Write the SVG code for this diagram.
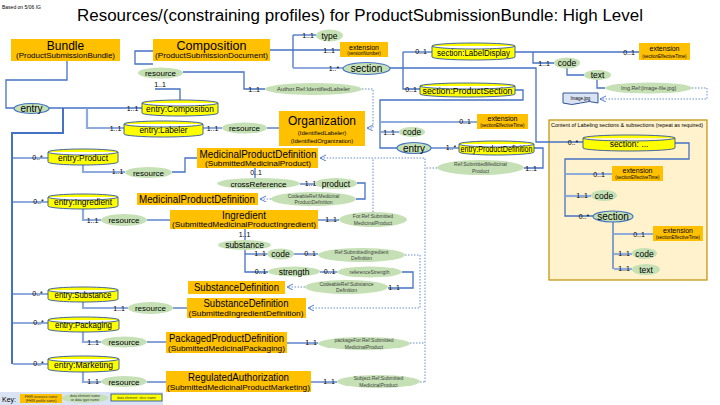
<svg xmlns="http://www.w3.org/2000/svg" width="720" height="405" viewBox="0 0 720 405">
<defs>
<marker id="oa" markerWidth="8" markerHeight="8" refX="6" refY="3" orient="auto" markerUnits="userSpaceOnUse">
<path d="M0,0 L6,3 L0,6" fill="none" stroke="#4472C4" stroke-width="0.9"/>
</marker>
<style>
text{font-family:"Liberation Sans",Arial,sans-serif;fill:#000}
.res{fill:#FFC000}
.el{fill:#C5E0B4}
.elb{fill:#C5E0B4;stroke:#4472C4;stroke-width:1.2}
.cyl{fill:#FFFF00;stroke:#2F5597;stroke-width:0.9}
.ln{fill:none;stroke:#4472C4;stroke-width:1.3}
.sp{fill:none;stroke:#4472C4;stroke-width:2}
.lt{fill:none;stroke:#8FAADC;stroke-width:2.2}
.dt{fill:none;stroke:#4472C4;stroke-width:0.8;stroke-dasharray:1.5 1.5}
.m{font-size:7px;text-anchor:middle}
.c{text-anchor:middle}
.big{font-size:12px;text-anchor:middle}
.mid{font-size:10.5px;text-anchor:middle}
.sub{font-size:7.5px;text-anchor:middle}
.sub6{font-size:6px;text-anchor:middle}
.tiny{font-size:5px;text-anchor:middle;fill:#404040}
.e8{font-size:8.5px;text-anchor:middle}
.cy{font-size:8.5px;text-anchor:middle}
.ext{font-size:7px;text-anchor:middle}
.ext2{font-size:4.5px;text-anchor:middle}
.key{font-size:3.5px;text-anchor:middle;fill:#333}
</style>
</defs>
<rect width="720" height="405" fill="#fff"/>
<text x="2" y="9" font-size="5">Based on 5/06 IG</text>
<text x="360" y="21" font-size="16" text-anchor="middle" textLength="566" lengthAdjust="spacingAndGlyphs">Resources/(constraining profiles) for ProductSubmissionBundle: High Level</text>

<g id="content-box">
<rect x="549" y="120" width="158" height="160" fill="#FFF2CC" stroke="#BF9000" stroke-width="1.2"/>
<text x="551" y="126.5" font-size="5" textLength="152" lengthAdjust="spacingAndGlyphs">Content of Labeling sections &amp; subsections (repeat as required)</text>
</g>

<g id="connectors">
<path class="ln" d="M67,61 V80 H6 V108 H14"/>
<path class="ln" d="M49,108 H142"/>
<path class="sp" d="M63,108 V133 H12 V364"/>
<path class="lt" d="M87,109 V128 H124"/>
<path class="lt" d="M203,128 H222"/>
<path class="ln" d="M267,128 H279"/>
<path class="ln" d="M153,51 H135 V64 H153"/>
<path class="ln" d="M155,89 H180 V100"/>
<path class="ln" d="M270,50 H340"/>
<path class="ln" d="M293,35 V68"/>
<path class="ln" d="M293,35 H316"/>
<path class="lt" d="M293,68 H343"/>
<path class="ln" d="M183,72 H244 V89 H265"/>
<path class="ln" d="M390,68 H536 V142 H583"/>
<path class="ln" d="M403,52 V89 H420"/>
<path class="ln" d="M403,52 H432"/>
<path class="ln" d="M515,52 H639"/>
<path class="ln" d="M533,52 V63 H554"/>
<path class="ln" d="M567,68 V75 H584"/>
<path class="ln" d="M597,80 V88 H605"/>
<path class="ln" d="M515,90 H523 V100 H380 V148 H397"/>
<path class="lt" d="M381,122 H477"/>
<path class="lt" d="M381,132 H399"/>
<path class="ln" d="M431,148 H459"/>
<path class="ln" d="M534,148 H543 V168 H524"/>
<path class="ln" d="M675,143 H689 V159 H565 V216 H593"/>
<path class="lt" d="M566,174 H612"/>
<path class="lt" d="M566,196 H591"/>
<path class="ln" d="M613,222 V269"/>
<path class="lt" d="M614,234 H653"/>
<path class="lt" d="M614,254 H632"/>
<path class="lt" d="M614,269 H632"/>
<path class="lt" d="M13,158 H48"/>
<path class="lt" d="M13,202 H48"/>
<path class="lt" d="M13,294 H48"/>
<path class="lt" d="M13,323 H48"/>
<path class="lt" d="M13,364 H48"/>
<path class="lt" d="M83,165 V172 H125"/>
<path class="ln" d="M172,172 H185 V158 H197"/>
<path class="ln" d="M255,168 V178"/>
<path class="ln" d="M300,184 H315"/>
<path class="ln" d="M357,183 H365 V199 H356"/>
<path class="lt" d="M83,209 V220 H101"/>
<path class="ln" d="M147,220 H170"/>
<path class="ln" d="M318,220 H339"/>
<path class="ln" d="M245,229 V240"/>
<path class="ln" d="M245,250 V272 H268"/>
<path class="ln" d="M245,254 H267"/>
<path class="ln" d="M294,254 H318"/>
<path class="ln" d="M320,272 H337"/>
<path class="ln" d="M402,272 H413 V288 H388"/>
<path class="lt" d="M83,302 V308 H128"/>
<path class="ln" d="M173,308 H187"/>
<path class="lt" d="M83,332 V342 H101"/>
<path class="ln" d="M147,342 H166"/>
<path class="ln" d="M287,343 H318"/>
<path class="lt" d="M83,372 V382 H101"/>
<path class="ln" d="M147,382 H166"/>
<path class="ln" d="M311,382 H337"/>
<path class="dt" d="M362,89 H373 V128 H367" marker-end="url(#oa)"/>
<path class="dt" d="M437,168 H425"/>
<path class="dt" d="M425,382 V158 H320" marker-end="url(#oa)"/>
<path class="dt" d="M410,343 H425"/>
<path class="dt" d="M420,382 H425"/>
<path class="dt" d="M373,212 V158"/>
<path class="dt" d="M271,199 H260" marker-end="url(#oa)"/>
<path class="dt" d="M405,255 H420 V308 H308" marker-end="url(#oa)"/>
<path class="dt" d="M305,287 H287" marker-end="url(#oa)"/>
<path class="dt" d="M692,88 H707 V99 H600" marker-end="url(#oa)"/>
</g>

<g id="labels">
<text class="m" x="160" y="87">1..1</text>
<text class="m" x="132.5" y="110.5">1..1</text>
<text class="m" x="115.5" y="130.5">1..1</text>
<text class="m" x="212.5" y="130.5">1..1</text>
<text class="m" x="308" y="37.5">1..1</text>
<text class="m" x="329" y="52.5">1..1</text>
<text class="m" x="334" y="70.5">1..*</text>
<text class="m" x="254" y="92">1..1</text>
<text class="m" x="421" y="54">0..1</text>
<text class="m" x="411" y="91.5">0..1</text>
<text class="m" x="629" y="54.5">0..1</text>
<text class="m" x="544" y="65.5">1..1</text>
<text class="m" x="465" y="124">0..1</text>
<text class="m" x="389" y="134.5">1..1</text>
<text class="m" x="451" y="150">1..*</text>
<text class="m" x="531" y="170.5">1..1</text>
<text class="m" x="573" y="144.5">0..*</text>
<text class="m" x="599" y="176.5">0..1</text>
<text class="m" x="582" y="198">1..1</text>
<text class="m" x="584" y="218.5">0..*</text>
<text class="m" x="639" y="236.5">0..1</text>
<text class="m" x="624" y="256">1..1</text>
<text class="m" x="624" y="271">1..1</text>
<text class="m" x="37.5" y="159.5">0..*</text>
<text class="m" x="117.5" y="174">1..1</text>
<text class="m" x="256" y="175">0..1</text>
<text class="m" x="310.5" y="186">1..1</text>
<text class="m" x="38.5" y="203.5">0..*</text>
<text class="m" x="92.5" y="222.5">1..1</text>
<text class="m" x="331" y="222">1..1</text>
<text class="m" x="244.5" y="237">1..1</text>
<text class="m" x="260" y="256">1..1</text>
<text class="m" x="310" y="256">0..1</text>
<text class="m" x="260.5" y="274">0..1</text>
<text class="m" x="329.5" y="274">0..1</text>
<text class="m" x="394" y="290">1..1</text>
<text class="m" x="37.5" y="296">0..*</text>
<text class="m" x="119" y="310.5">1..1</text>
<text class="m" x="38.5" y="325">0..*</text>
<text class="m" x="93" y="344.5">1..1</text>
<text class="m" x="311" y="345">1..1</text>
<text class="m" x="38.5" y="365.5">0..*</text>
<text class="m" x="93" y="384">1..1</text>
<text class="m" x="329" y="384">1..1</text>
</g>

<g id="bundle">
<rect class="res" x="11" y="39" width="109" height="22"/>
<text class="big" x="65.5" y="49.5">Bundle</text>
<text class="sub" x="65.5" y="58" textLength="99" lengthAdjust="spacingAndGlyphs">(ProductSubmissionBundle)</text>
</g>
<g id="composition">
<rect class="res" x="153" y="39" width="117" height="22"/>
<text class="big" x="211.5" y="49.5" font-size="12.5" textLength="70" lengthAdjust="spacingAndGlyphs">Composition</text>
<text class="sub" x="211.5" y="58" textLength="113" lengthAdjust="spacingAndGlyphs">(ProductSubmissionDocument)</text>
</g>
<g id="comp-resource"><ellipse class="el" cx="160.5" cy="73" rx="22.5" ry="5.5"/><text class="c" x="160.5" y="76" font-size="8">resource</text></g>
<g id="entry"><ellipse class="elb" cx="31.5" cy="108.5" rx="17.5" ry="5"/><text class="c" x="31.5" y="112" font-size="10">entry</text></g>
<g id="entry-composition">
<path class="cyl" d="M142,103 A38,3 0 0 1 218,103 V113 A38,3 0 0 1 142,113 Z M142,103 A38,3 0 0 0 218,103"/>
<text class="cy" x="180" y="112" textLength="68" lengthAdjust="spacingAndGlyphs">entry:Composition</text>
</g>
<g id="entry-labeler">
<path class="cyl" d="M124,124 A39.5,3 0 0 1 203,124 V134 A39.5,3 0 0 1 124,134 Z M124,124 A39.5,3 0 0 0 203,124"/>
<text class="cy" x="163.5" y="132.5" textLength="48" lengthAdjust="spacingAndGlyphs">entry:Labeler</text>
</g>
<g id="labeler-resource"><ellipse class="el" cx="244.5" cy="128" rx="22.5" ry="5.5"/><text class="c" x="244.5" y="131" font-size="8">resource</text></g>
<g id="organization">
<rect class="res" x="279" y="111" width="86" height="35"/>
<text class="big" x="322" y="124.5">Organization</text>
<text class="sub6" x="322" y="135">(IdentifiedLabeler)</text>
<text class="sub6" x="322" y="143">(IdentifiedOrganization)</text>
</g>
<g id="type"><ellipse class="el" cx="329.5" cy="35.5" rx="13.5" ry="6"/><text class="c" x="329.5" y="38.5" font-size="8.5">type</text></g>
<g id="ext-version">
<rect class="res" x="340" y="42" width="48" height="15"/>
<text class="ext" x="364" y="49.5">extension</text>
<text class="ext2" x="364" y="55" font-size="5">(versionNumber)</text>
</g>
<g id="section"><ellipse class="elb" cx="366.5" cy="68.5" rx="23.5" ry="6"/><text class="c" x="366.5" y="72" font-size="10">section</text></g>
<g id="author"><ellipse class="el" cx="313.5" cy="89" rx="48.5" ry="6"/><text class="tiny" x="313.5" y="91" textLength="73" lengthAdjust="spacingAndGlyphs">Author.Ref:IdentifiedLabeler</text></g>
<g id="section-labeldisplay">
<path class="cyl" d="M432,46 A41.5,3 0 0 1 515,46 V57 A41.5,3 0 0 1 432,57 Z M432,46 A41.5,3 0 0 0 515,46"/>
<text class="cy" x="473.5" y="55.5" textLength="73" lengthAdjust="spacingAndGlyphs">section:LabelDisplay</text>
</g>
<g id="ext-labeldisplay">
<rect class="res" x="639" y="43" width="51" height="17"/>
<text class="ext" x="664.5" y="51">extension</text>
<text class="ext2" x="664.5" y="57.5">(sectionEffectiveTime)</text>
</g>
<g id="code-ld"><ellipse class="el" cx="567" cy="63" rx="13" ry="5.5"/><text class="c" x="567" y="66" font-size="8.5">code</text></g>
<g id="text-ld"><ellipse class="el" cx="597.5" cy="75" rx="13.5" ry="5"/><text class="c" x="597.5" y="78" font-size="8.5">text</text></g>
<g id="imgref"><ellipse class="el" cx="648.5" cy="88" rx="43.5" ry="5.5"/><text class="tiny" x="648.5" y="90" textLength="55" lengthAdjust="spacingAndGlyphs">Img.Ref:[image-file.jpg]</text></g>
<g id="image-jpg">
<path d="M563,93 H598 V103 Q589,100 580.5,103 Q572,106 563,103 Z" fill="#DAE3F3" stroke="#2F5597" stroke-width="1"/>
<text class="c" x="580.5" y="100" font-size="4.5" fill="#333">Image.jpg</text>
</g>
<g id="section-productsection">
<path class="cyl" d="M420,86 A47.5,3 0 0 1 515,86 V94 A47.5,3 0 0 1 420,94 Z M420,86 A47.5,3 0 0 0 515,86"/>
<text class="cy" x="467.5" y="94" textLength="90" lengthAdjust="spacingAndGlyphs">section:ProductSection</text>
</g>
<g id="ext-ps">
<rect class="res" x="477" y="114" width="51" height="15"/>
<text class="ext" x="502.5" y="121">extension</text>
<text class="ext2" x="502.5" y="127">(sectionEffectiveTime)</text>
</g>
<g id="code-ps"><ellipse class="el" cx="412" cy="132" rx="13" ry="5"/><text class="c" x="412" y="135" font-size="8.5">code</text></g>
<g id="entry-ps"><ellipse class="elb" cx="414" cy="148" rx="17" ry="5.5"/><text class="c" x="414" y="151.5" font-size="10">entry</text></g>
<g id="entry-productdefinition">
<path class="cyl" d="M459,144 A37.5,3 0 0 1 534,144 V152 A37.5,3 0 0 1 459,152 Z M459,144 A37.5,3 0 0 0 534,144"/>
<text class="cy" x="496.5" y="151.5" textLength="72" lengthAdjust="spacingAndGlyphs">entry:ProductDefinition</text>
</g>
<g id="ref-smp"><ellipse class="el" cx="480.5" cy="167.5" rx="43.5" ry="7.5"/><text class="tiny" x="480.5" y="166">Ref:SubmittedMedicinal</text><text class="tiny" x="480.5" y="172.5">Product</text></g>

<g id="section-dots">
<path class="cyl" d="M583,138 A46,3 0 0 1 675,138 V148 A46,3 0 0 1 583,148 Z M583,138 A46,3 0 0 0 675,138"/>
<text class="cy" x="629" y="146.5">section: ...</text>
</g>
<g id="ext-c1">
<rect class="res" x="612" y="166" width="51" height="15"/>
<text class="ext" x="637.5" y="173">extension</text>
<text class="ext2" x="637.5" y="179">(sectionEffectiveTime)</text>
</g>
<g id="code-c1"><ellipse class="el" cx="604" cy="195.5" rx="13" ry="5.5"/><text class="c" x="604" y="198.5" font-size="8.5">code</text></g>
<g id="section-c1"><ellipse class="elb" cx="613" cy="216.5" rx="20" ry="5.5"/><text class="c" x="613" y="220" font-size="10">section</text></g>
<g id="ext-c2">
<rect class="res" x="653" y="226" width="50" height="15"/>
<text class="ext" x="678" y="233">extension</text>
<text class="ext2" x="678" y="239">(sectionEffectiveTime)</text>
</g>
<g id="code-c2"><ellipse class="el" cx="644.5" cy="253.5" rx="12.5" ry="5.5"/><text class="c" x="644.5" y="256.5" font-size="8.5">code</text></g>
<g id="text-c2"><ellipse class="el" cx="646" cy="269.5" rx="14" ry="5.5"/><text class="c" x="646" y="272.5" font-size="8.5">text</text></g>

<g id="entry-product">
<path class="cyl" d="M48,152 A35,3 0 0 1 118,152 V162 A35,3 0 0 1 48,162 Z M48,152 A35,3 0 0 0 118,152"/>
<text class="cy" x="83" y="160.5" textLength="50" lengthAdjust="spacingAndGlyphs">entry:Product</text>
</g>
<g id="product-resource"><ellipse class="el" cx="148.5" cy="172.5" rx="23.5" ry="5.5"/><text class="c" x="148.5" y="175.5" font-size="8">resource</text></g>
<g id="mpd">
<rect class="res" x="197" y="148" width="121" height="20"/>
<text class="mid" x="258" y="157.5" textLength="117" lengthAdjust="spacingAndGlyphs">MedicinalProductDefinition</text>
<text class="sub" x="258" y="166" textLength="106" lengthAdjust="spacingAndGlyphs">(SubmittedMedicinalProduct)</text>
</g>
<g id="crossreference"><ellipse class="el" cx="258.5" cy="183.5" rx="41.5" ry="5.5"/><text class="c" x="258.5" y="186.5" font-size="8">crossReference</text></g>
<g id="product"><ellipse class="el" cx="336" cy="183.5" rx="21" ry="5.5"/><text class="c" x="336" y="186.5" font-size="8.5">product</text></g>
<g id="codeableref-mpd"><ellipse class="el" cx="313.5" cy="199" rx="42.5" ry="7"/><text class="tiny" x="313.5" y="197.5">CodeableRef:Medicinal</text><text class="tiny" x="313.5" y="204">ProductDefinition</text></g>
<g id="mpd2">
<rect class="res" x="137" y="193" width="121" height="12"/>
<text class="mid" x="197" y="203" textLength="116" lengthAdjust="spacingAndGlyphs">MedicinalProductDefinition</text>
</g>

<g id="entry-ingredient">
<path class="cyl" d="M48,197 A35,3 0 0 1 118,197 V206 A35,3 0 0 1 48,206 Z M48,197 A35,3 0 0 0 118,197"/>
<text class="cy" x="83" y="205" textLength="58" lengthAdjust="spacingAndGlyphs">entry:Ingredient</text>
</g>
<g id="ingredient-resource"><ellipse class="el" cx="124" cy="220" rx="23" ry="6"/><text class="c" x="124" y="223" font-size="8">resource</text></g>
<g id="ingredient">
<rect class="res" x="170" y="210" width="148" height="19"/>
<text class="mid" x="244" y="219" textLength="44" lengthAdjust="spacingAndGlyphs">Ingredient</text>
<text class="sub" x="244" y="227" textLength="144" lengthAdjust="spacingAndGlyphs">(SubmittedMedicinalProductIngredient)</text>
</g>
<g id="forref"><ellipse class="el" cx="373" cy="219.5" rx="34" ry="7.5"/><text class="tiny" x="373" y="218">For.Ref:Submitted</text><text class="tiny" x="373" y="224.5">MedicinalProduct</text></g>
<g id="substance"><ellipse class="el" cx="244.5" cy="245" rx="26.5" ry="5"/><text class="c" x="244.5" y="248" font-size="8.5">substance</text></g>
<g id="code-sub"><ellipse class="el" cx="280.5" cy="254" rx="13.5" ry="5.5"/><text class="c" x="280.5" y="257" font-size="8.5">code</text></g>
<g id="ref-sid"><ellipse class="el" cx="361.5" cy="255" rx="43.5" ry="7"/><text class="tiny" x="361.5" y="253.5">Ref:SubmittedIngredient</text><text class="tiny" x="361.5" y="260">Definition</text></g>
<g id="strength"><ellipse class="el" cx="294" cy="271.5" rx="26" ry="5"/><text class="c" x="294" y="274.5" font-size="8.5">strength</text></g>
<g id="referencestrength"><ellipse class="el" cx="369.5" cy="272" rx="32.5" ry="5.5"/><text class="tiny" x="369.5" y="274" font-size="5.5">referenceStrength</text></g>
<g id="codeableref-sd"><ellipse class="el" cx="346.5" cy="287" rx="41.5" ry="7"/><text class="tiny" x="346.5" y="285.5">CodeableRef:Substance</text><text class="tiny" x="346.5" y="292">Definition</text></g>
<g id="sd1">
<rect class="res" x="188" y="281" width="97" height="13"/>
<text class="mid" x="236.5" y="291" textLength="85" lengthAdjust="spacingAndGlyphs">SubstanceDefinition</text>
</g>

<g id="entry-substance">
<path class="cyl" d="M48,290 A35,3 0 0 1 118,290 V299 A35,3 0 0 1 48,299 Z M48,290 A35,3 0 0 0 118,290"/>
<text class="cy" x="83" y="298" textLength="57" lengthAdjust="spacingAndGlyphs">entry:Substance</text>
</g>
<g id="substance-resource"><ellipse class="el" cx="150.5" cy="308" rx="22.5" ry="6"/><text class="c" x="150.5" y="311" font-size="8">resource</text></g>
<g id="sd2">
<rect class="res" x="187" y="298" width="119" height="20"/>
<text class="mid" x="246" y="307" textLength="85" lengthAdjust="spacingAndGlyphs">SubstanceDefinition</text>
<text class="sub" x="246" y="315.5" textLength="115" lengthAdjust="spacingAndGlyphs">(SubmittedIngredientDefinition)</text>
</g>

<g id="entry-packaging">
<path class="cyl" d="M48,320 A35.5,3 0 0 1 119,320 V329 A35.5,3 0 0 1 48,329 Z M48,320 A35.5,3 0 0 0 119,320"/>
<text class="cy" x="83.5" y="328" textLength="57" lengthAdjust="spacingAndGlyphs">entry:Packaging</text>
</g>
<g id="packaging-resource"><ellipse class="el" cx="124" cy="342" rx="23" ry="5.5"/><text class="c" x="124" y="345" font-size="8">resource</text></g>
<g id="ppd">
<rect class="res" x="166" y="332" width="121" height="21"/>
<text class="mid" x="226.5" y="342" textLength="115" lengthAdjust="spacingAndGlyphs">PackagedProductDefinition</text>
<text class="sub" x="226.5" y="350.5" textLength="117" lengthAdjust="spacingAndGlyphs">(SubmittedMedicinalPackaging)</text>
</g>
<g id="packagefor"><ellipse class="el" cx="364" cy="343.5" rx="46" ry="6.5"/><text class="tiny" x="364" y="342">packageFor.Ref:Submitted</text><text class="tiny" x="364" y="348.5">MedicinalProduct</text></g>

<g id="entry-marketing">
<path class="cyl" d="M48,359 A35.5,3 0 0 1 119,359 V369 A35.5,3 0 0 1 48,369 Z M48,359 A35.5,3 0 0 0 119,359"/>
<text class="cy" x="83.5" y="367.5" textLength="59" lengthAdjust="spacingAndGlyphs">entry:Marketing</text>
</g>
<g id="marketing-resource"><ellipse class="el" cx="124" cy="381.5" rx="23" ry="5.5"/><text class="c" x="124" y="384.5" font-size="8">resource</text></g>
<g id="ra">
<rect class="res" x="166" y="371" width="145" height="21"/>
<text class="mid" x="238.5" y="381" font-size="11" textLength="101" lengthAdjust="spacingAndGlyphs">RegulatedAuthorization</text>
<text class="sub" x="238.5" y="389.5" textLength="143" lengthAdjust="spacingAndGlyphs">(SubmittedMedicinalProductMarketing)</text>
</g>
<g id="subjectref"><ellipse class="el" cx="378.5" cy="381.5" rx="41.5" ry="6.5"/><text class="tiny" x="378.5" y="380">Subject.Ref:Submitted</text><text class="tiny" x="378.5" y="386.5">MedicinalProduct</text></g>

<g id="key">
<rect x="0" y="392" width="163" height="13" fill="#DAE3F3"/>
<text x="2" y="401.5" font-size="7">Key:</text>
<rect class="res" x="20" y="394" width="42" height="9"/>
<text class="key" x="41" y="398">FHIR resource name</text>
<text class="key" x="41" y="402">(FHIR profile name)</text>
<ellipse class="el" cx="85" cy="398" rx="23" ry="5"/>
<text class="key" x="85" y="397">data element name</text>
<text class="key" x="85" y="401">or data type name</text>
<rect x="111" y="394" width="51" height="7" fill="#FFFF00" stroke="#2F5597" stroke-width="0.9"/>
<text class="key" x="136.5" y="399">data element: slice name</text>
</g>
</svg>
